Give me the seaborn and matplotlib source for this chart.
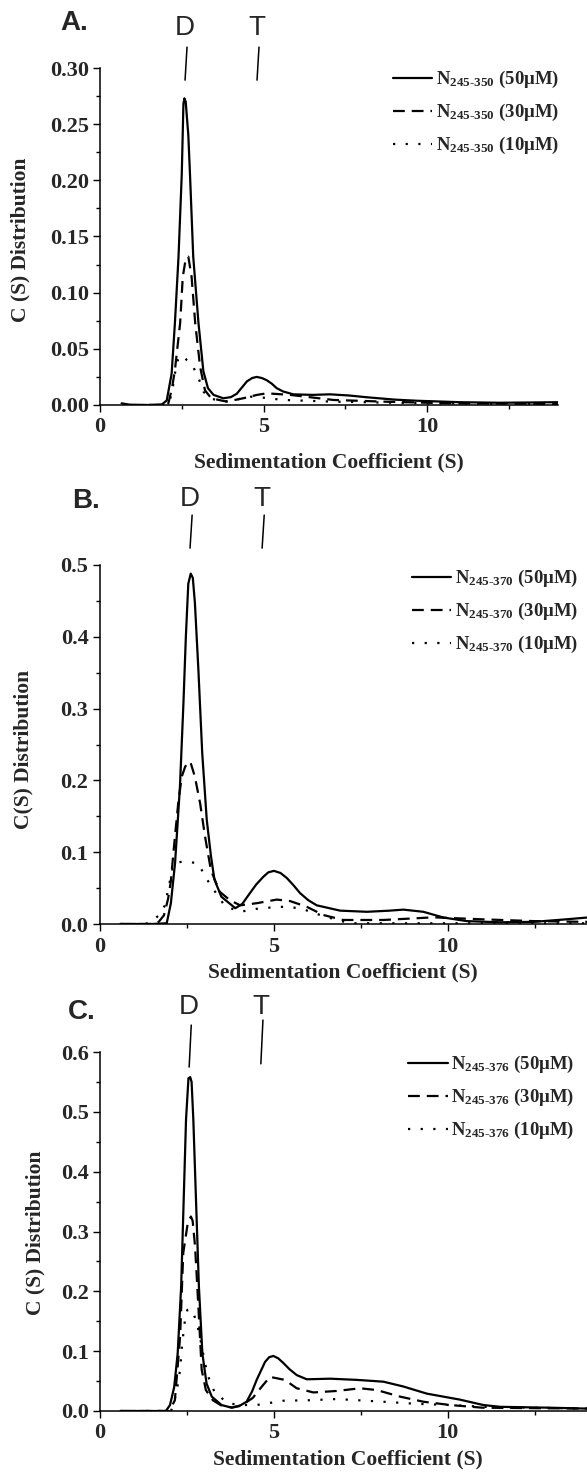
import seaborn as sns
import matplotlib.pyplot as plt
from matplotlib.ticker import MultipleLocator, FormatStrFormatter

# panel A: N245-350
a_s50 = [0.66, 0.9, 1.5, 1.89, 2.04, 2.19, 2.29, 2.40, 2.50, 2.55, 2.58, 2.62, 2.70, 2.75, 2.85, 3.01, 3.16, 3.30, 3.47,
         3.77, 4.00, 4.18, 4.35, 4.49, 4.65, 4.79, 4.95, 5.10, 5.25, 5.40, 5.60, 5.91, 6.5, 7.03, 7.6, 8.15, 9.0, 9.68,
         11.0, 12.2, 13.0, 14.0]
a_c50 = [0.0015, 0.0003, 0.0, 0.0005, 0.004, 0.028, 0.073, 0.132, 0.206, 0.268, 0.273, 0.270, 0.240, 0.206, 0.132, 0.073,
         0.030, 0.015, 0.009, 0.006, 0.007, 0.010, 0.016, 0.021, 0.024, 0.025, 0.024, 0.022, 0.019, 0.015, 0.012, 0.0095,
         0.009, 0.0095, 0.0085, 0.0069, 0.0048, 0.0038, 0.0025, 0.002, 0.0022, 0.0025]
a_s30 = [1.5, 2.0, 2.09, 2.20, 2.29, 2.45, 2.53, 2.62, 2.70, 2.80, 2.91, 3.06, 3.21, 3.40, 3.87, 4.38, 4.8, 5.10, 5.81,
         7.13, 8.66, 10.7, 14.0]
a_c30 = [0.0, 0.0, 0.0015, 0.015, 0.031, 0.073, 0.114, 0.130, 0.132, 0.114, 0.073, 0.034, 0.013, 0.006, 0.003, 0.006,
         0.009, 0.0104, 0.009, 0.0045, 0.003, 0.0015, 0.001]
a_s10 = [1.5, 2.05, 2.14, 2.22, 2.29, 2.38, 2.45, 2.55, 2.65, 2.80, 2.90, 3.00, 3.16, 3.35, 3.77, 4.2, 4.59, 5.0, 5.6,
         7.1, 10.0, 14.0]
a_c10 = [0.0, 0.0, 0.0045, 0.015, 0.028, 0.040, 0.043, 0.044, 0.040, 0.036, 0.031, 0.025, 0.012, 0.006, 0.003, 0.005,
         0.0074, 0.0065, 0.0045, 0.003, 0.0015, 0.001]

# panel B: N245-370
b_s50 = [0.6, 1.5, 1.93, 2.05, 2.17, 2.31, 2.41, 2.48, 2.55, 2.62, 2.68, 2.74, 2.84, 2.95, 3.08, 3.20, 3.30, 3.50, 3.90,
         4.10, 4.32, 4.50, 4.71, 4.85, 5.01, 5.20, 5.38, 5.57, 5.76, 6.00, 6.24, 6.91, 7.68, 8.3, 8.73, 9.30, 9.88,
         10.55, 11.5, 12.47, 13.4, 14.0]
b_c50 = [0.0, 0.0, 0.001, 0.029, 0.085, 0.191, 0.307, 0.400, 0.474, 0.488, 0.482, 0.447, 0.354, 0.238, 0.145, 0.095,
         0.062, 0.038, 0.022, 0.028, 0.043, 0.055, 0.066, 0.072, 0.074, 0.071, 0.064, 0.054, 0.043, 0.033, 0.026,
         0.0186, 0.017, 0.0185, 0.020, 0.017, 0.009, 0.004, 0.0024, 0.003, 0.0065, 0.009]
b_s30 = [0.6, 1.5, 1.70, 1.85, 1.97, 2.05, 2.12, 2.26, 2.36, 2.46, 2.55, 2.62, 2.74, 2.89, 3.03, 3.20, 3.45, 3.75, 4.04,
         4.52, 5.09, 5.47, 5.95, 6.43, 7.0, 8.15, 9.59, 11.0, 12.5, 14.0]
b_c30 = [0.0, 0.0, 0.003, 0.012, 0.035, 0.060, 0.098, 0.168, 0.205, 0.219, 0.226, 0.224, 0.205, 0.168, 0.122, 0.075,
         0.045, 0.033, 0.026, 0.029, 0.034, 0.032, 0.024, 0.0125, 0.0056, 0.0056, 0.0093, 0.0065, 0.004, 0.003]
b_s10 = [0.6, 1.3, 1.45, 1.55, 1.70, 1.88, 2.00, 2.11, 2.17, 2.40, 2.60, 2.79, 2.90, 3.03, 3.20, 3.32, 3.6, 4.04, 4.61,
         5.28, 5.76, 6.34, 6.82, 7.2, 14.0]
b_c10 = [0.0, 0.0, 0.002, 0.0055, 0.012, 0.026, 0.055, 0.080, 0.085, 0.087, 0.086, 0.085, 0.078, 0.068, 0.052, 0.045,
         0.025, 0.017, 0.022, 0.024, 0.022, 0.0125, 0.0056, 0.001, 0.001]

# panel C: N245-376
c_s50 = [0.6, 1.9, 2.02, 2.14, 2.24, 2.34, 2.41, 2.48, 2.55, 2.60, 2.64, 2.69, 2.77, 2.85, 2.95, 3.07, 3.22, 3.50, 3.79,
         4.0, 4.22, 4.38, 4.51, 4.75, 4.87, 4.99, 5.13, 5.28, 5.45, 5.66, 5.95, 6.62, 7.39, 8.15, 8.72, 9.40, 10.35,
         11.02, 11.5, 12.94, 14.0]
c_c50 = [0.0, 0.0, 0.010, 0.040, 0.096, 0.208, 0.347, 0.487, 0.556, 0.558, 0.550, 0.487, 0.347, 0.208, 0.096, 0.046,
         0.024, 0.010, 0.0055, 0.008, 0.0155, 0.033, 0.052, 0.082, 0.090, 0.092, 0.088, 0.080, 0.070, 0.060, 0.053,
         0.054, 0.052, 0.049, 0.041, 0.029, 0.019, 0.010, 0.007, 0.0055, 0.004]
c_s30 = [0.6, 2.0, 2.16, 2.31, 2.40, 2.53, 2.62, 2.67, 2.74, 2.83, 2.93, 3.05, 3.25, 3.50, 3.80, 4.10, 4.40, 4.66, 4.89,
         5.32, 5.66, 6.14, 6.81, 7.48, 7.96, 8.63, 9.30, 10.07, 11.0, 14.0]
c_c30 = [0.0, 0.0, 0.018, 0.124, 0.264, 0.314, 0.325, 0.318, 0.275, 0.180, 0.069, 0.035, 0.018, 0.009, 0.006, 0.010,
         0.022, 0.041, 0.057, 0.052, 0.038, 0.031, 0.0335, 0.038, 0.035, 0.024, 0.0155, 0.010, 0.0055, 0.004]
c_s10 = [0.6, 2.05, 2.12, 2.21, 2.31, 2.37, 2.45, 2.52, 2.66, 2.79, 2.88, 2.95, 3.10, 3.31, 3.70, 4.03, 4.51, 5.28, 6.04,
         6.81, 8.0, 9.1, 10.07, 11.0, 14.0]
c_c10 = [0.0, 0.0, 0.012, 0.032, 0.069, 0.113, 0.152, 0.169, 0.169, 0.147, 0.124, 0.102, 0.060, 0.030, 0.013, 0.010,
         0.010, 0.0172, 0.018, 0.020, 0.016, 0.012, 0.010, 0.007, 0.004]

concs = ["(50μM)", "(30μM)", "(10μM)"]

sns.set_style("ticks")
plt.rcParams["font.family"] = ["Liberation Serif", "DejaVu Serif"]
plt.rcParams["font.weight"] = "bold"
plt.rcParams["mathtext.fontset"] = "custom"
plt.rcParams["mathtext.rm"] = "Liberation Serif:bold"
plt.rcParams["mathtext.it"] = "Liberation Serif:bold"
plt.rcParams["mathtext.bf"] = "Liberation Serif:bold"
plt.rcParams["lines.scale_dashes"] = False

W, H = 587, 1474
fig = plt.figure(figsize=(W / 100, H / 100), dpi=100)
fig.patch.set_facecolor("white")

styles = ["-", (0, (8.5, 5)), (0, (1.6, 7.5))]


def panel(rect, series, name, ymax, ystep, yfmt, ylabel, letter, letter_xy, dt, ylab_xy, xlab_xy, leg_xy):
    ax = fig.add_axes([rect[0] / W, 1 - rect[3] / H, (rect[1] - rect[0]) / W, (rect[3] - rect[2]) / H])
    for (s, c), ls, conc in zip(series, styles, concs):
        sns.lineplot(x=s, y=c, ax=ax, color="black", linewidth=1.6, linestyle=ls,
                     label=r"N$_{\text{%s}}$ %s" % (name, conc), errorbar=None, sort=False)
    ax.set_xlim(0, 14)
    ax.set_ylim(0, ymax)
    ax.xaxis.set_major_locator(MultipleLocator(5))
    ax.xaxis.set_minor_locator(MultipleLocator(2.5))
    ax.yaxis.set_major_locator(MultipleLocator(ystep))
    ax.yaxis.set_minor_locator(MultipleLocator(ystep / 2))
    ax.yaxis.set_major_formatter(FormatStrFormatter(yfmt))
    ax.tick_params(which="major", length=5, width=1, labelsize=16, direction="out", color="black")
    ax.tick_params(which="minor", length=3, width=1, direction="out", color="black")
    ax.tick_params(axis="x", pad=4)
    ax.tick_params(axis="y", pad=3)
    sns.despine(ax=ax)
    for sp in ax.spines.values():
        sp.set_linewidth(1.1)
        sp.set_color("black")
    ax.set_facecolor("white")
    ax.set_ylabel(ylabel, fontsize=15.5, fontweight="bold", va="center")
    ax.set_xlabel("Sedimentation Coefficient (S)", fontsize=15.5, fontweight="bold", va="center")
    ax.yaxis.set_label_coords(*ylab_xy)
    ax.xaxis.set_label_coords(*xlab_xy)
    leg = ax.legend(loc="upper left", bbox_to_anchor=leg_xy, frameon=False, fontsize=13.5,
                    handlelength=2.1, handletextpad=0.2, labelspacing=0.63, borderpad=0, borderaxespad=0)
    for t in leg.get_texts():
        t.set_fontweight("bold")
    fig.text(letter_xy[0] / W, 1 - letter_xy[1] / H, letter, fontsize=20, fontweight="bold",
             family="Liberation Sans", ha="center", va="center")
    tr = ax.get_xaxis_transform()
    for txt, sx, y_txt, y_top, y_bot in dt:
        ax.text(sx, y_txt, txt, transform=tr, fontsize=20, fontweight="normal", family="Liberation Sans",
                ha="center", va="center", clip_on=False)
        ax.plot([sx + 0.06, sx], [y_top, y_bot], transform=tr, color="black", linewidth=1.1, clip_on=False)
    return ax


panel((100, 558, 68, 405), [(a_s50, a_c50), (a_s30, a_c30), (a_s10, a_c10)], "245-350",
      0.30, 0.05, "%.2f", "C (S) Distribution", "A.", (74, 23),
      [("D", 2.6, 1.119, 1.062, 0.964), ("T", 4.8, 1.119, 1.062, 0.964)],
      (-0.173, 0.49), (0.5, -0.172), (0.64, 0.996))

panel((99.5, 587, 565, 924), [(b_s50, b_c50), (b_s30, b_c30), (b_s10, b_c10)], "245-370",
      0.5, 0.1, "%.1f", "C(S) Distribution", "B.", (86, 501),
      [("D", 2.6, 1.184, 1.139, 1.047), ("T", 4.67, 1.184, 1.139, 1.047)],
      (-0.155, 0.485), (0.5, -0.134), (0.641, 0.991))

panel((99.7, 587, 1052, 1411), [(c_s50, c_c50), (c_s30, c_c30), (c_s10, c_c10)], "245-376",
      0.6, 0.1, "%.1f", "C (S) Distribution", "C.", (82, 1012),
      [("D", 2.57, 1.125, 1.075, 0.958), ("T", 4.63, 1.125, 1.089, 0.967)],
      (-0.1315, 0.496), (0.51, -0.136), (0.633, 0.994))

fig.savefig("out.png", dpi=100, facecolor="white")
